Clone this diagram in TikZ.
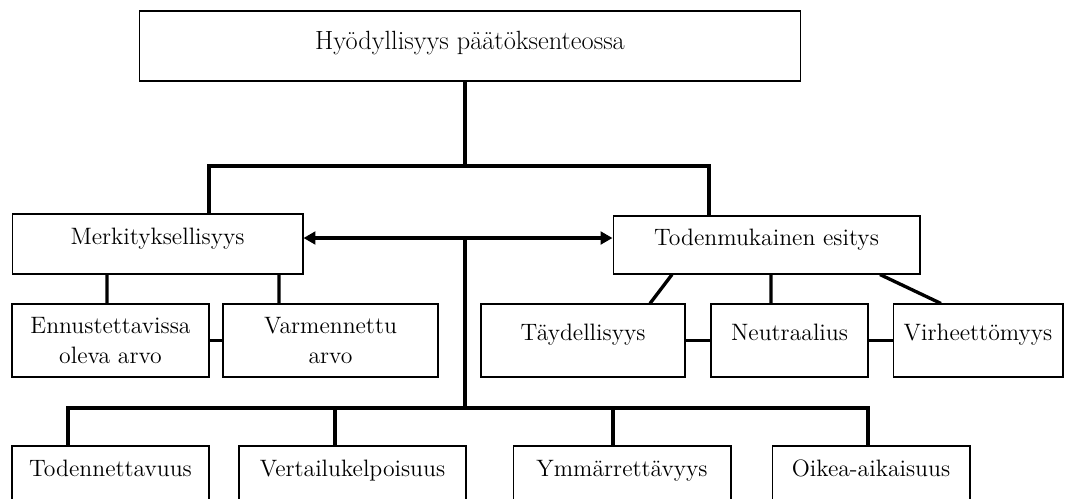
\documentclass[tikz,border=0pt]{standalone}
\usepackage{amsfonts,amssymb,amsmath}
\usepackage{xcolor}
\usepackage{tikz}
\usetikzlibrary{arrows.meta}

\begin{document}
\begin{tikzpicture}[x=0.02cm,y=-0.02cm,>={Triangle[length=6.8pt,width=7.2pt]},
box/.style={draw,line width=0.6pt,inner sep=0pt,font=\fontsize{13.5}{17}\selectfont},
onebox/.style={box,text height=8pt,text depth=8pt},
link/.style={line width=1.9pt}]
\useasboundingbox(0,0)rectangle(1065,498);
\clip(0,0)rectangle(1065,498);
\node[box,font=\fontsize{15}{18}\selectfont,text height=9pt,text depth=5pt,minimum width=13.24cm,minimum height=1.4cm](top)at(470,46){Hyödyllisyys päätöksenteossa};
\node[onebox,minimum width=5.82cm,minimum height=1.2cm](merk)at(157.5,244){Merkityksellisyys};
\node[onebox,minimum width=6.14cm,minimum height=1.16cm](toden)at(766.5,245){Todenmukainen esitys};
\node[box,align=center,minimum width=3.94cm,minimum height=1.46cm](ennust)at(110.5,340.5){Ennustettavissa\\oleva arvo};
\node[box,align=center,minimum width=4.3cm,minimum height=1.46cm](varm)at(330.5,340.5){Varmennettu\\arvo};
\node[onebox,minimum width=4.08cm,minimum height=1.46cm](tayd)at(583,340.5){Täydellisyys};
\node[onebox,minimum width=3.14cm,minimum height=1.46cm](neutr)at(789.5,340.5){Neutraalius};
\node[onebox,minimum width=3.4cm,minimum height=1.46cm](virh)at(978,340.5){Virheettömyys};
\node[onebox,minimum width=3.94cm,minimum height=1.2cm](todenn)at(110.5,476){Todennettavuus};
\node[onebox,minimum width=4.54cm,minimum height=1.2cm](verta)at(352.5,476){Vertailukelpoisuus};
\node[onebox,minimum width=4.36cm,minimum height=1.2cm](ymm)at(622,476){Ymmärrettävyys};
\node[onebox,minimum width=3.96cm,minimum height=1.2cm](oikea)at(871,476){Oikea-aikaisuus};
\coordinate(j)at(465,166);
\coordinate(a)at(465,238);
\coordinate(b)at(465,408);
\draw[link](top.south-|j)--(j);
\draw[link]([xshift=1.03cm]merk.north)|-(j)-|([xshift=-1.15cm]toden.north);
\draw[link,<->](merk.east|-a)--(toden.west|-a);
\draw[link](a)--(b);
\draw[link]([xshift=-0.07cm]ennust.north)--([xshift=-1.01cm]merk.south);
\draw[link]([xshift=2.43cm]merk.south)--([xshift=-1.03cm]varm.north);
\draw[link](ennust)--(varm);
\draw[link]([xshift=-1.89cm]toden.south)--([xshift=1.34cm]tayd.north);
\draw[link]([xshift=0.09cm]toden.south)--([xshift=-0.37cm]neutr.north);
\draw[link]([xshift=2.27cm]toden.south)--([xshift=-0.74cm]virh.north);
\draw[link](tayd)--(neutr)(neutr)--(virh);
\draw[link]([xshift=-0.85cm]todenn.north)|-(b)-|([xshift=-0.06cm]oikea.north);
\draw[link]([xshift=-0.35cm]verta.north)|-(b);
\draw[link]([xshift=-0.18cm]ymm.north)|-(b);
\end{tikzpicture}
\end{document}
